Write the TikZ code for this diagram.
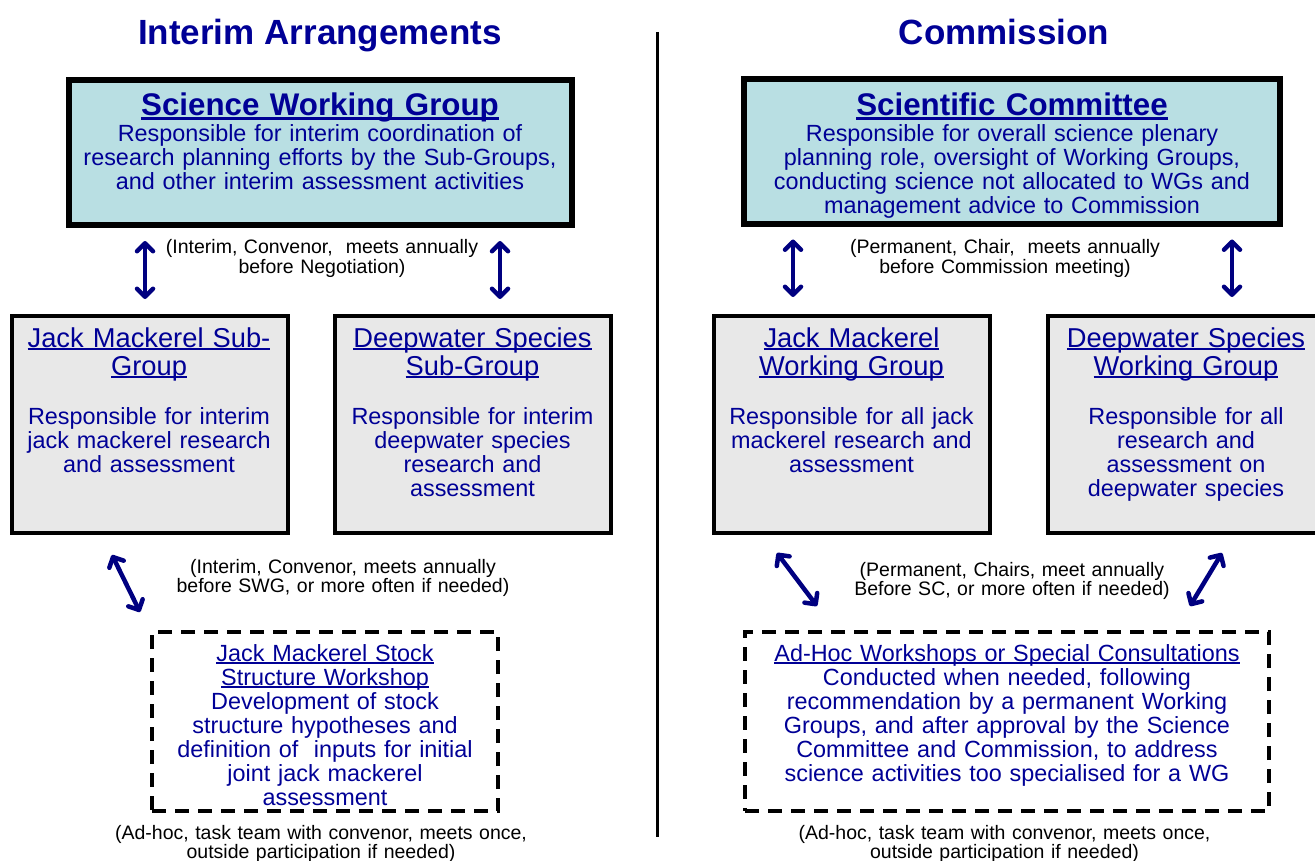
\documentclass[tikz,border=0pt]{standalone}
\usepackage{fontspec}
\setmainfont{Liberation Sans}
\usetikzlibrary{positioning,calc,arrows.meta}

\definecolor{textblue}{RGB}{0,0,150}
\definecolor{arrowblue}{RGB}{0,0,128}
\definecolor{swgfill}{RGB}{185,223,227}
\definecolor{sgfill}{RGB}{232,232,232}

\newcommand\ulbar[1]{\leavevmode\setbox0\hbox{#1}\rlap{\rule[-0.12em]{\wd0}{0.08em}}\box0}
\newcommand\bodyfont{\fontsize{23.4}{24}\selectfont}
\newcommand\notefont{\fontsize{19.5}{17.5}\selectfont}

\begin{document}
\begin{tikzpicture}[x=1pt,y=-1pt]
    \tikzstyle{heading}=[font=\bfseries\fontsize{35}{40}\selectfont,text=textblue,anchor=base]
    \tikzstyle{topbox}=[draw=black,line width=6pt,fill=swgfill,minimum height=145pt]
    \tikzstyle{subbox}=[draw=black,line width=4pt,fill=sgfill,minimum width=276pt,minimum height=217pt]
    \tikzstyle{adhocbox}=[draw=black,line width=4pt,dash pattern=on 14pt off 9pt,minimum height=179pt]
    \tikzstyle{boxtext}=[font=\bodyfont,text=textblue,align=center,text width=520pt,anchor=base,inner sep=0pt]
    \tikzstyle{subtitle}=[font=\fontsize{27.3}{28}\selectfont,text=textblue,align=center,text width=300pt,anchor=base,inner sep=0pt]
    \tikzstyle{note}=[font=\notefont,align=center,text width=520pt,anchor=base,inner sep=0pt]
    \tikzstyle{link}=[arrowblue,line width=4.5pt,line cap=round,{Straight Barb[length=8pt,width=16pt,round]}-{Straight Barb[length=8pt,width=16pt,round]}]

    \path[use as bounding box,clip] (0,0) rectangle (1315,861);

    % headings
    \node (interim)[heading] at (320,45) {Interim Arrangements};
    \node (commission)[heading] at (1004,45) {Commission};
    \draw[line width=3pt] (657,32) -- (657,837);

    % top boxes
    \node (swg)[topbox,minimum width=503pt] at (320.5,152.5) {};
    \node (sc)[topbox,minimum width=536pt] at (1012,152) {};
    \node (swgtitle)[boxtext,font=\bfseries\fontsize{31.3}{32}\selectfont] at (320,116) {\ulbar{Science Working Group}};
    \node (swgtext)[boxtext] at (320,142) {Responsible for interim coordination of\\research planning efforts by the Sub-Groups,\\and other interim assessment activities};
    \node (sctitle)[boxtext,font=\bfseries\fontsize{31.3}{32}\selectfont] at (1012,116) {\ulbar{Scientific Committee}};
    \node (sctext)[boxtext] at (1012,142) {Responsible for overall science plenary\\planning role, oversight of Working Groups,\\conducting science not allocated to WGs and\\management advice to Commission};

    \node (swgnote)[note] at (322,254) {(Interim, Convenor,\ \ meets annually\\before Negotiation)};
    \node (scnote)[note] at (1005,254) {(Permanent, Chair,\ \ meets annually\\before Commission meeting)};

    % sub-groups and working groups
    \node (jmsg)[subbox] at (150,424.5) {};
    \node (dwsg)[subbox] at (472.5,424.5) {};
    \node (jmwg)[subbox] at (852,424.5) {};
    \node (dwwg)[subbox] at (1186,424.5) {};

    \node (jmsgtitle)[subtitle] at (149,347) {\ulbar{Jack Mackerel Sub-}\\\ulbar{Group}};
    \node (jmsgtext)[boxtext,text width=270pt] at (149,424) {Responsible for interim\\jack mackerel research\\and assessment};
    \node (dwsgtitle)[subtitle] at (472.5,347) {\ulbar{Deepwater Species}\\\ulbar{Sub-Group}};
    \node (dwsgtext)[boxtext,text width=270pt] at (472.5,424) {Responsible for interim\\deepwater species\\research and\\assessment};
    \node (jmwgtitle)[subtitle] at (851.5,347) {\ulbar{Jack Mackerel}\\\ulbar{Working Group}};
    \node (jmwgtext)[boxtext,text width=270pt] at (851.5,424) {Responsible for all jack\\mackerel research and\\assessment};
    \node (dwwgtitle)[subtitle] at (1186,347) {\ulbar{Deepwater Species}\\\ulbar{Working Group}};
    \node (dwwgtext)[boxtext,text width=270pt] at (1186,424) {Responsible for all\\research and\\assessment on\\deepwater species};

    \draw[link] ($(swg.south -| jmsg.north)+(-5,13)$) -- ($(jmsg.north)+(-5,-15)$);
    \draw[link] ($(swg.south -| dwsg.north)+(27.5,13)$) -- ($(dwsg.north)+(27.5,-15)$);
    \draw[link] ($(sc.south -| jmwg.north)+(-59,12)$) -- ($(jmwg.north)+(-59,-17)$);
    \draw[link] ($(sc.south -| dwwg.north)+(46,12)$) -- ($(dwwg.north)+(46,-17)$);

    \node (sgnote)[note] at (343,573) {(Interim, Convenor, meets annually\\before SWG, or more often if needed)};
    \node (wgnote)[note] at (1012,576) {(Permanent, Chairs, meet annually\\Before SC, or more often if needed)};

    % ad-hoc workshops
    \node (jmws)[adhocbox,minimum width=346pt] at (325,721.5) {};
    \node (adhoc)[adhocbox,minimum width=524pt] at (1007,721.5) {};
    \node (jmwstext)[boxtext,text width=340pt] at (325,661) {\ulbar{Jack Mackerel Stock}\\\ulbar{Structure Workshop}\\Development of stock\\structure hypotheses and\\definition of\ \ inputs for initial\\joint jack mackerel\\assessment};
    \node (adhoctext)[boxtext] at (1007,661) {\ulbar{Ad-Hoc Workshops or Special Consultations}\\Conducted when needed, following\\recommendation by a permanent Working\\Groups, and after approval by the Science\\Committee and Commission, to address\\science activities too specialised for a WG};

    \draw[link] ($(jmsg.south)+(-38,20)$) -- ($(jmws.north west)+(-10,-18)$);
    \draw[link] ($(jmwg.south)+(-75,18)$) -- ($(adhoc.north west)+(74,-24)$);
    \draw[link] ($(dwwg.south)+(36,18)$) -- ($(adhoc.north east)+(-81,-24)$);

    \node (jmwsnote)[note,font=\fontsize{19.5}{16.5}\selectfont] at (321,839) {(Ad-hoc, task team with convenor, meets once,\\outside participation if needed)};
    \node (adhocnote)[note,font=\fontsize{19.5}{16.5}\selectfont] at (1004.5,839) {(Ad-hoc, task team with convenor, meets once,\\outside participation if needed)};
\end{tikzpicture}
\end{document}
